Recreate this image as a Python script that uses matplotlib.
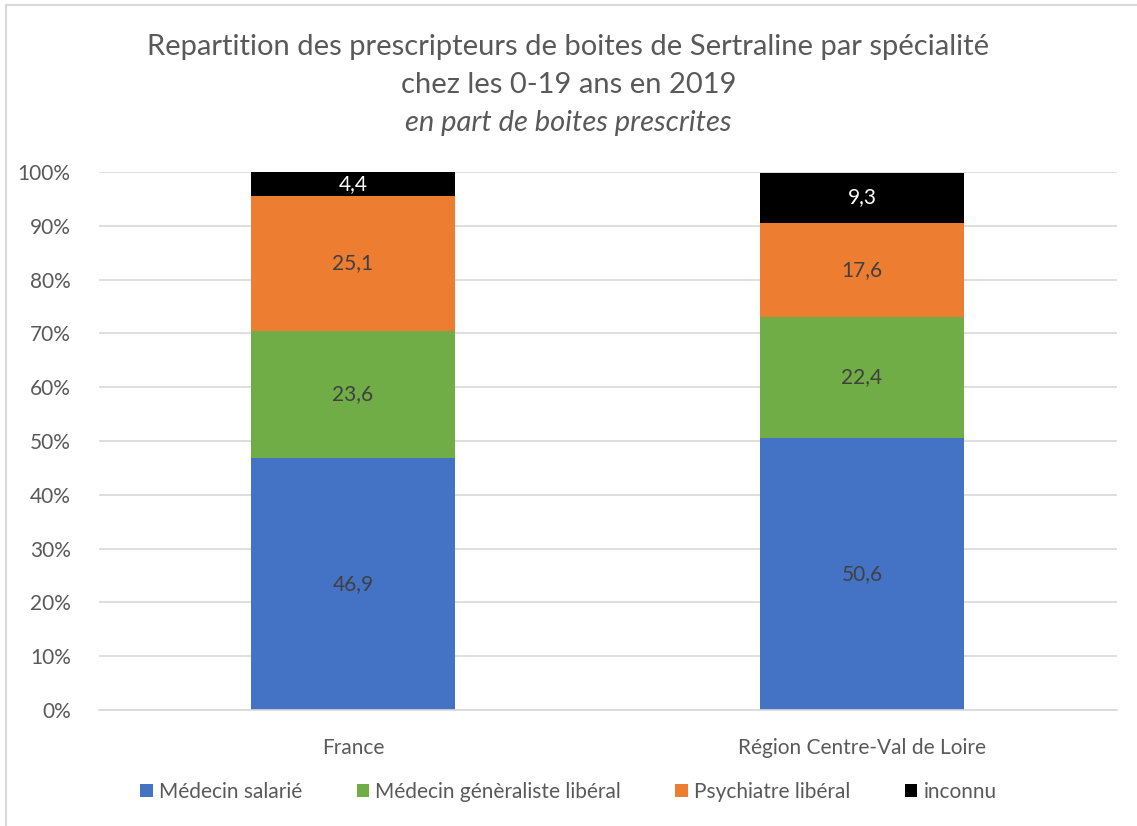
import matplotlib.pyplot as plt
from matplotlib.patches import Rectangle
from matplotlib.ticker import PercentFormatter

plt.rcParams['font.family'] = ['Lato', 'DejaVu Sans']

regions = ['France', 'Région Centre-Val de Loire']
series = ['Médecin salarié', 'Médecin génèraliste libéral', 'Psychiatre libéral', 'inconnu']
salarie = [46.9, 50.6]
generaliste = [23.6, 22.4]
psychiatre = [25.1, 17.6]
inconnu = [4.4, 9.3]
colors = ['#4472C4', '#70AD47', '#ED7D31', '#000000']
label_colors = ['#404040', '#404040', '#404040', '#FFFFFF']

W, H = 1137, 826
fig = plt.figure(figsize=(W / 100, H / 100), dpi=100)
ax = fig.add_axes([98.5 / W, 1 - 710 / H, 1018 / W, 538 / H])

x = range(len(regions))
bottom = [0.0, 0.0]
for name, vals, c, lc in zip(series, [salarie, generaliste, psychiatre, inconnu], colors, label_colors):
    fr = [v / 100 for v in vals]
    bars = ax.bar(x, fr, 0.4, bottom=bottom, color=c, label=name, zorder=2)
    ax.bar_label(bars, labels=[('%.1f' % v).replace('.', ',') for v in vals],
                 label_type='center', color=lc, fontsize=15)
    bottom = [b + f for b, f in zip(bottom, fr)]

ax.set_xlim(-0.5, 1.5)
ax.set_ylim(0, 1)
ax.set_yticks([i / 10 for i in range(11)])
ax.yaxis.set_major_formatter(PercentFormatter(1.0, decimals=0))
ax.grid(axis='y', color='#D9D9D9', linewidth=1.2, zorder=0)
ax.set_xticks(list(x))
ax.set_xticklabels(regions)
for s in ['top', 'right', 'left']:
    ax.spines[s].set_visible(False)
ax.spines['bottom'].set_color('#D9D9D9')
ax.spines['bottom'].set_linewidth(1.2)
ax.tick_params(axis='both', length=0, labelsize=15, colors='#595959')
ax.tick_params(axis='x', pad=20)
ax.tick_params(axis='y', pad=20)

fig.text(0.5, 1 - 47 / H, 'Repartition des prescripteurs de boites de Sertraline par spécialité',
         ha='center', va='center', fontsize=21, color='#595959')
fig.text(0.5, 1 - 85 / H, 'chez les 0-19 ans en 2019',
         ha='center', va='center', fontsize=21, color='#595959')
fig.text(0.5, 1 - 123 / H, 'en part de boites prescrites',
         ha='center', va='center', fontsize=21, color='#595959', style='italic')

fig.legend(loc='center', bbox_to_anchor=(0.5, 1 - 792 / H), ncol=4, frameon=False,
           fontsize=15, handlelength=0.6, handleheight=0.6, handletextpad=0.3,
           columnspacing=2.6, labelcolor='#595959')

fig.patches.append(Rectangle((6 / W, -0.1), 1.2, 1 - 5 / H + 0.1, transform=fig.transFigure,
                             fill=False, edgecolor='#D9D9D9', linewidth=1.5))

fig.savefig('out.png', dpi=100)
